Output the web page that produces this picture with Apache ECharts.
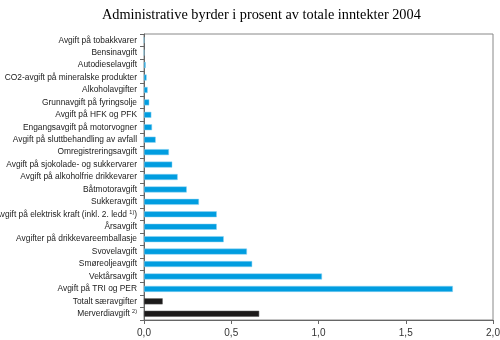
<!DOCTYPE html>
<html><head><meta charset="utf-8">
<script src="https://cdn.jsdelivr.net/npm/echarts@6/dist/echarts.min.js"></script>
<style>html,body{margin:0;padding:0;background:#fff}#c{width:500px;height:340px}</style>
</head><body><div id="c"></div>
<script>
const titleText = 'Administrative byrder i prosent av totale inntekter 2004';
const categories = [
  'Avgift på tobakkvarer',
  'Bensinavgift',
  'Autodieselavgift',
  'CO2-avgift på mineralske produkter',
  'Alkoholavgifter',
  'Grunnavgift på fyringsolje',
  'Avgift på HFK og PFK',
  'Engangsavgift på motorvogner',
  'Avgift på sluttbehandling av avfall',
  'Omregistreringsavgift',
  'Avgift på sjokolade- og sukkervarer',
  'Avgift på alkoholfrie drikkevarer',
  'Båtmotoravgift',
  'Sukkeravgift',
  'Avgift på elektrisk kraft (inkl. 2. ledd {sup|1)}{n|)}',
  'Årsavgift',
  'Avgifter på drikkevareemballasje',
  'Svovelavgift',
  'Smøreoljeavgift',
  'Vektårsavgift',
  'Avgift på TRI og PER',
  'Totalt særavgifter',
  'Merverdiavgift {sup|2)}'
];
const values = [0, 0, 0.01, 0.015, 0.021, 0.030, 0.042, 0.046, 0.067, 0.143, 0.162, 0.193, 0.245, 0.315, 0.417, 0.417, 0.457, 0.59, 0.62, 1.02, 1.77, 0.107, 0.66];
const totalsIdx = [21, 22];
const xTicks = [0, 0.5, 1.0, 1.5, 2.0];

const chart = echarts.init(document.getElementById('c'), null, {renderer: 'canvas'});
const data = values.map((v, i) => ({
  value: v,
  itemStyle: totalsIdx.includes(i) ? {color: '#1c1a1a', borderColor: '#555', borderWidth: 0.5} : {color: '#009de0', borderColor: '#8fd4f2', borderWidth: 0.5}
}));
chart.setOption({
  animation: false,
  title: {
    text: titleText, left: 97, top: 3,
    textStyle: {fontFamily: 'Liberation Serif', fontSize: 14.3, fontWeight: 'normal', color: '#000'}
  },
  grid: {left: 144, right: 7, top: 34, bottom: 20, show: true, borderColor: '#888', borderWidth: 1, containLabel: false, outerBoundsMode: 'none'},
  xAxis: {
    type: 'value', min: 0, max: 2, interval: 0.5,
    axisLine: {show: true, lineStyle: {color: '#666'}},
    axisTick: {show: true, length: 4, lineStyle: {color: '#666'}},
    splitLine: {show: false},
    axisLabel: {
      margin: 8, fontFamily: 'Liberation Sans', fontSize: 10, color: '#333',
      formatter: v => xTicks.includes(v) ? v.toFixed(1).replace('.', ',') : ''
    }
  },
  yAxis: {
    type: 'category', data: categories, inverse: true,
    axisLine: {show: true, lineStyle: {color: '#666'}},
    axisTick: {show: true, length: 4, lineStyle: {color: '#666'}},
    axisLabel: {
      margin: 7, fontFamily: 'Liberation Sans', fontSize: 8.4, color: '#222',
      rich: {
        sup: {fontSize: 5.5, fontFamily: 'Liberation Sans', color: '#222', verticalAlign: 'top', padding: [0, 0, 4, 0]},
        n: {fontSize: 8.4, fontFamily: 'Liberation Sans', color: '#222'}
      }
    }
  },
  series: [{
    type: 'bar', data: data, barWidth: 6
  }]
});
</script>
</body></html>
